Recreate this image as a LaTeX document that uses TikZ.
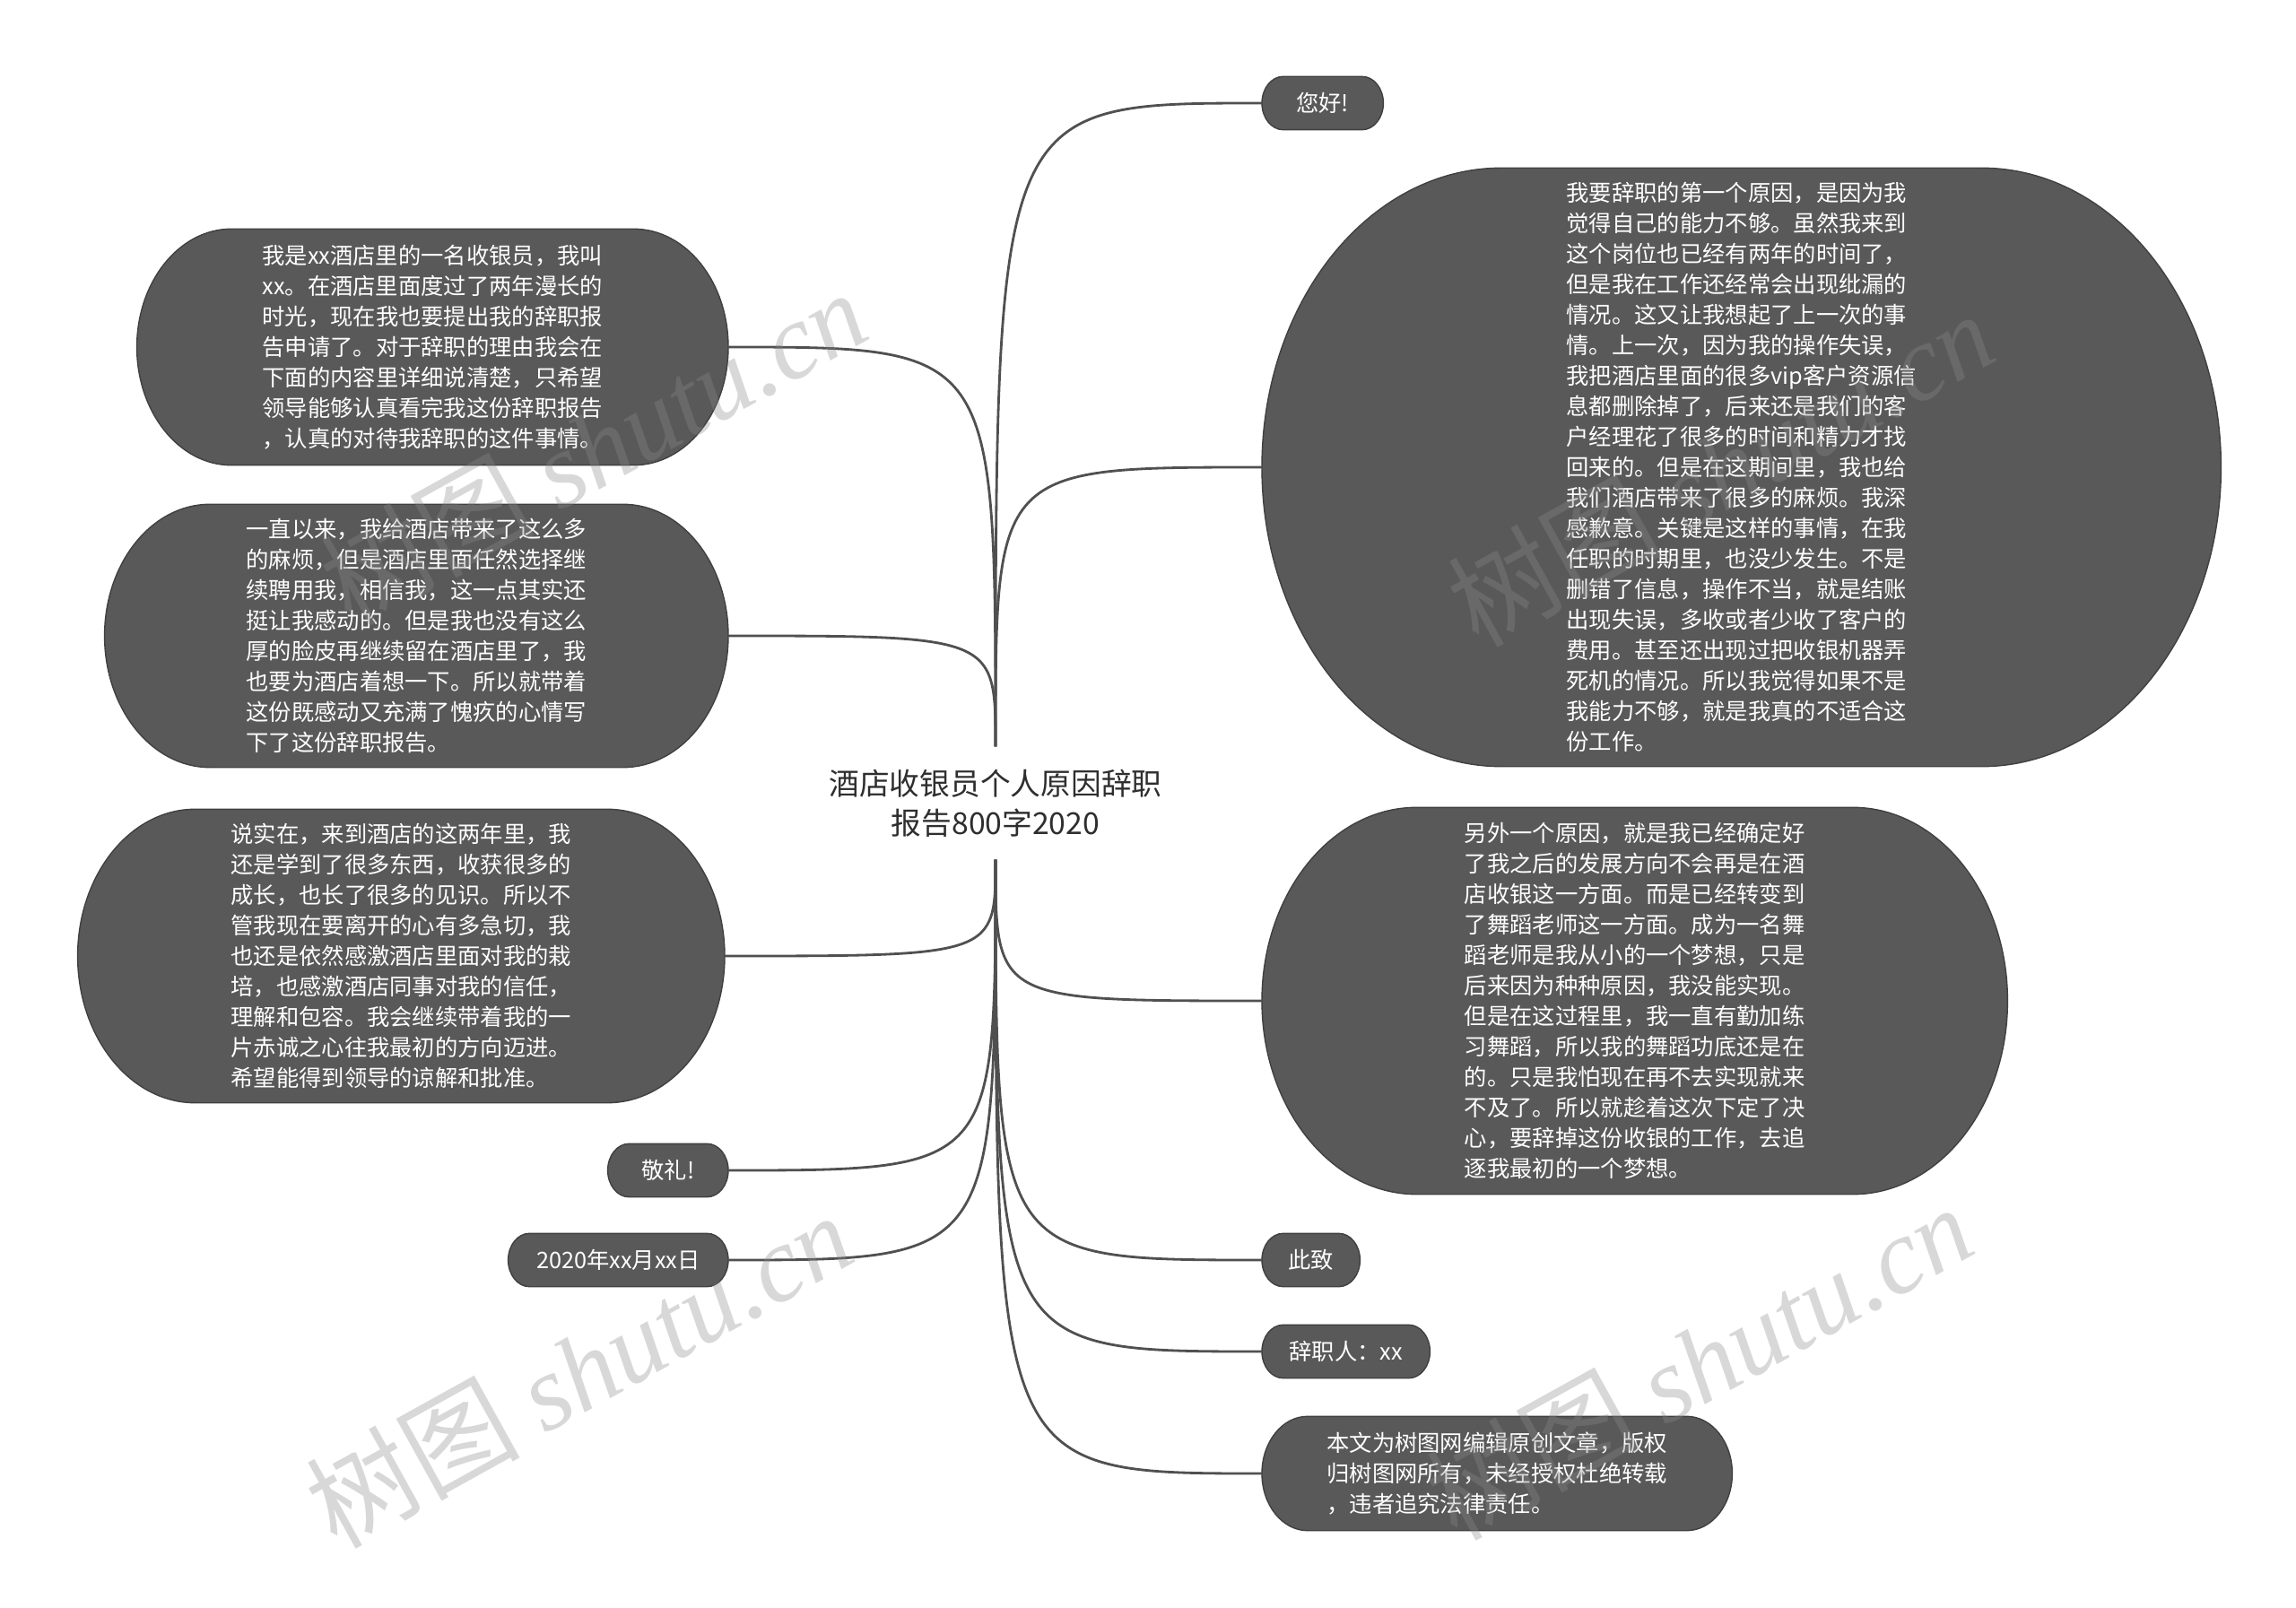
\documentclass[tikz,border=0pt]{standalone}
\usepackage{fontspec}
\newfontfamily\cjk{Noto Sans CJK SC}
\newfontfamily\wmfont{Liberation Serif}
\usepackage{xcolor}
\usepackage{tikz}
\usetikzlibrary{positioning,calc,backgrounds}
\definecolor{nodegray}{HTML}{595959}
\definecolor{edgegray}{HTML}{404040}
\definecolor{linkgray}{HTML}{505050}
\definecolor{titlegray}{HTML}{2E2E2E}

\begin{document}
\begin{tikzpicture}[
      topic/.style={align=center, text=titlegray, inner sep=0pt, minimum height=1.25cm, font=\cjk\fontsize{9.6}{12.5}\selectfont},
      leaf/.style={text=white, align=left, inner sep=0pt, font=\cjk\fontsize{7.2}{9.67}\selectfont},
      pill/.style={leaf, minimum height=0.58cm},
      bubble/.style={draw=edgegray, line width=0.4pt, fill=nodegray},
      link/.style={draw=linkgray, line width=0.8pt},
      wmark/.style={rotate=29, text=black!46, text opacity=0.33, inner sep=0pt}]
    \useasboundingbox (0,0) rectangle (25.6,-17.93);
    \node[topic] (title) at (11.10,-8.955) {酒店收银员个人原因辞职\\报告800字2020};
    \node[leaf, anchor=east, minimum width=6.58cm, minimum height=2.62cm] (intro) at (8.12,-3.87)
      {我是xx酒店里的一名收银员，我叫\\xx。在酒店里面度过了两年漫长的\\时光，现在我也要提出我的辞职报\\告申请了。对于辞职的理由我会在\\下面的内容里详细说清楚，只希望\\领导能够认真看完我这份辞职报告\\，认真的对待我辞职的这件事情。};
    \node[leaf, anchor=east, minimum width=6.94cm, minimum height=2.92cm] (trouble) at (8.12,-7.09)
      {一直以来，我给酒店带来了这么多\\的麻烦，但是酒店里面任然选择继\\续聘用我，相信我，这一点其实还\\挺让我感动的。但是我也没有这么\\厚的脸皮再继续留在酒店里了，我\\也要为酒店着想一下。所以就带着\\这份既感动又充满了愧疚的心情写\\下了这份辞职报告。};
    \node[leaf, anchor=east, minimum width=7.20cm, minimum height=3.26cm] (thanks) at (8.08,-10.66)
      {说实在，来到酒店的这两年里，我\\还是学到了很多东西，收获很多的\\成长，也长了很多的见识。所以不\\管我现在要离开的心有多急切，我\\也还是依然感激酒店里面对我的栽\\培，也感激酒店同事对我的信任，\\理解和包容。我会继续带着我的一\\片赤诚之心往我最初的方向迈进。\\希望能得到领导的谅解和批准。};
    \node[pill, anchor=east, minimum width=1.33cm] (salute) at (8.12,-13.05) {敬礼!};
    \node[pill, anchor=east, minimum width=2.44cm] (date) at (8.12,-14.05) {2020年xx月xx日};
    \node[pill, anchor=west, minimum width=1.34cm] (hello) at (14.07,-1.15) {您好!};
    \node[leaf, anchor=west, minimum width=10.68cm, minimum height=6.66cm] (reasonA) at (14.07,-5.21)
      {我要辞职的第一个原因，是因为我\\觉得自己的能力不够。虽然我来到\\这个岗位也已经有两年的时间了，\\但是我在工作还经常会出现纰漏的\\情况。这又让我想起了上一次的事\\情。上一次，因为我的操作失误，\\我把酒店里面的很多vip客户资源信\\息都删除掉了，后来还是我们的客\\户经理花了很多的时间和精力才找\\回来的。但是在这期间里，我也给\\我们酒店带来了很多的麻烦。我深\\感歉意。关键是这样的事情，在我\\任职的时期里，也没少发生。不是\\删错了信息，操作不当，就是结账\\出现失误，多收或者少收了客户的\\费用。甚至还出现过把收银机器弄\\死机的情况。所以我觉得如果不是\\我能力不够，就是我真的不适合这\\份工作。};
    \node[leaf, anchor=west, minimum width=8.30cm, minimum height=4.30cm] (reasonB) at (14.07,-11.16)
      {另外一个原因，就是我已经确定好\\了我之后的发展方向不会再是在酒\\店收银这一方面。而是已经转变到\\了舞蹈老师这一方面。成为一名舞\\蹈老师是我从小的一个梦想，只是\\后来因为种种原因，我没能实现。\\但是在这过程里，我一直有勤加练\\习舞蹈，所以我的舞蹈功底还是在\\的。只是我怕现在再不去实现就来\\不及了。所以就趁着这次下定了决\\心，要辞掉这份收银的工作，去追\\逐我最初的一个梦想。};
    \node[pill, anchor=west, minimum width=1.08cm] (regards) at (14.07,-14.05) {此致};
    \node[pill, anchor=west, minimum width=1.86cm] (signer) at (14.07,-15.07) {辞职人：xx};
    \node[leaf, anchor=west, minimum width=5.23cm, minimum height=1.26cm] (notice) at (14.07,-16.43)
      {本文为树图网编辑原创文章，版权\\归树图网所有，未经授权杜绝转载\\，违者追究法律责任。};
    \begin{scope}[on background layer]
      \fill[white] (0,0) rectangle (25.6,-17.93);
      \foreach \b in {intro,trouble,thanks,salute,date,hello,reasonA,reasonB,regards,signer,notice}
        \path[bubble] let \p1=($(\b.north)-(\b.south)$) in
          ($(\b.north west)+(0.4*\y1,0)$) -- ($(\b.north east)-(0.4*\y1,0)$)
          arc[start angle=90, end angle=-90, x radius=0.4*\y1, y radius=0.5*\y1]
          -- ($(\b.south west)+(0.4*\y1,0)$)
          arc[start angle=270, end angle=90, x radius=0.4*\y1, y radius=0.5*\y1] -- cycle;
    \end{scope}
    \foreach \n in {intro,trouble}
      \draw[link] (title.north) .. controls (title.north |- \n.east) .. (\n.east);
    \foreach \n in {hello,reasonA}
      \draw[link] (title.north) .. controls (title.north |- \n.west) .. (\n.west);
    \foreach \n in {thanks,salute,date}
      \draw[link] (title.south) .. controls (title.south |- \n.east) .. (\n.east);
    \foreach \n in {reasonB,regards,signer,notice}
      \draw[link] (title.south) .. controls (title.south |- \n.west) .. (\n.west);
    \foreach \p/\q in {6.61/4.98,19.18/5.22,6.45/15.27,18.94/15.18}
      \node[wmark] at (\p,-\q) {\cjk\fontsize{34}{34}\selectfont 树图 \wmfont\itshape shutu.cn};
  \end{tikzpicture}
\end{document}
